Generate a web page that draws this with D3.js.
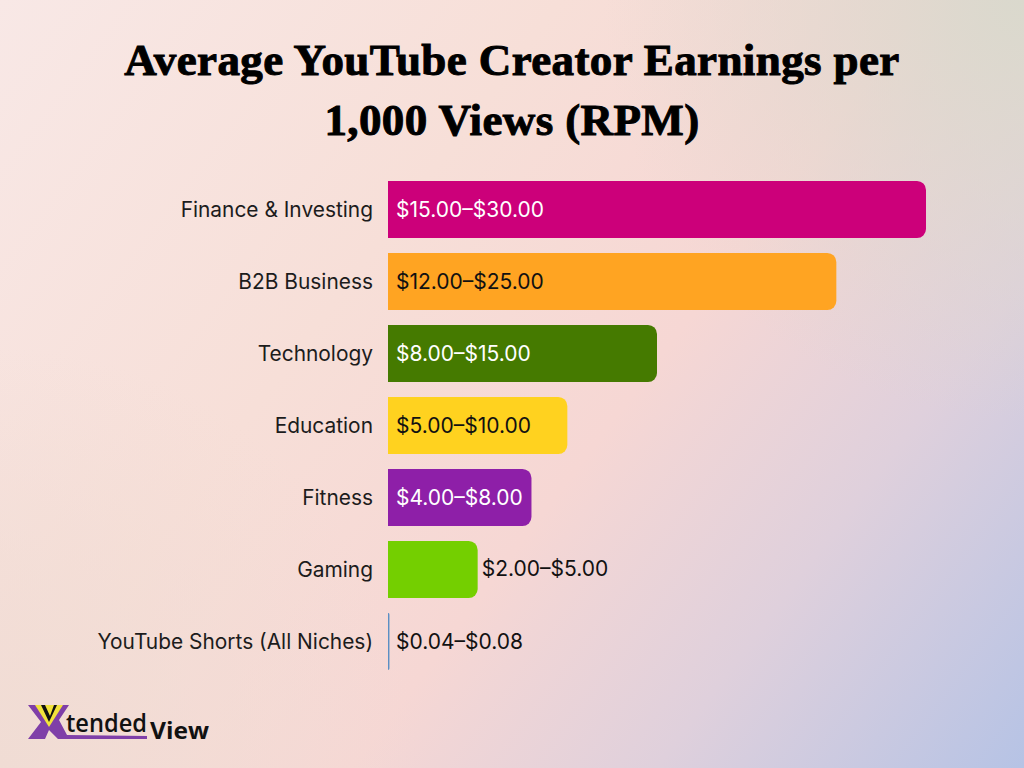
<!DOCTYPE html>
<html>
<head>
<meta charset="utf-8">
<script src="https://cdn.jsdelivr.net/npm/d3@7"></script>
<style>
html, body { margin: 0; padding: 0; background: #f6d9d4; }
svg { display: block; }
</style>
</head>
<body>
<div id="chart"></div>
<script>
const categories = ["Finance & Investing", "B2B Business", "Technology", "Education", "Fitness", "Gaming", "YouTube Shorts (All Niches)"];
const maxValues = [30, 25, 15, 10, 8, 5, 0.08];
const rangeLabels = ["$15.00–$30.00", "$12.00–$25.00", "$8.00–$15.00", "$5.00–$10.00", "$4.00–$8.00", "$2.00–$5.00", "$0.04–$0.08"];
const barColors = ["#cc007a", "#ffa422", "#457a00", "#ffd21f", "#8e1fa8", "#74cf00", "#5b8fc4"];
const labelColors = ["#ffffff", "#111111", "#ffffff", "#111111", "#ffffff", "#111111", "#111111"];
const titleLines = ["Average YouTube Creator Earnings per", "1,000 Views (RPM)"];

const width = 1024, height = 768;

const svg = d3.select("#chart").append("svg")
    .attr("width", width)
    .attr("height", height)
    .attr("viewBox", "0 0 " + width + " " + height);

/* background is a diagonal gradient with a grey glow in the top right */
const defs = svg.append("defs");
const bg = defs.append("linearGradient").attr("id", "bg")
    .attr("gradientUnits", "userSpaceOnUse")
    .attr("x1", 0).attr("y1", 0).attr("x2", 1024).attr("y2", 768);
bg.selectAll("stop")
    .data([[0, "#f8e8e6"], [0.35, "#f7dfd8"], [0.58, "#f6d7d4"], [0.77, "#dfd0dc"], [1, "#b6c3e5"]])
    .enter().append("stop")
    .attr("offset", d => d[0])
    .attr("stop-color", d => d[1]);
const glow = defs.append("radialGradient").attr("id", "glow")
    .attr("gradientUnits", "userSpaceOnUse")
    .attr("cx", 1024).attr("cy", 0).attr("r", 420);
glow.append("stop").attr("offset", 0).attr("stop-color", "#dad9cd").attr("stop-opacity", 1);
glow.append("stop").attr("offset", 1).attr("stop-color", "#dad9cd").attr("stop-opacity", 0);
const glow2 = defs.append("radialGradient").attr("id", "glow2")
    .attr("gradientUnits", "userSpaceOnUse")
    .attr("cx", 0).attr("cy", 768).attr("r", 420);
glow2.append("stop").attr("offset", 0).attr("stop-color", "#f0dcd4").attr("stop-opacity", 1);
glow2.append("stop").attr("offset", 1).attr("stop-color", "#f0dcd4").attr("stop-opacity", 0);

svg.append("rect").attr("width", width).attr("height", height).attr("fill", "url(#bg)");
svg.append("rect").attr("width", width).attr("height", height).attr("fill", "url(#glow)");
svg.append("rect").attr("width", width).attr("height", height).attr("fill", "url(#glow2)");

/* title */
svg.append("g").selectAll("text")
    .data(titleLines)
    .enter().append("text")
    .attr("x", 512)
    .attr("y", (d, i) => 75 + i * 60)
    .attr("text-anchor", "middle")
    .attr("font-family", "'Liberation Serif', serif")
    .attr("font-weight", "bold")
    .attr("font-size", 45)
    .attr("letter-spacing", 0.38)
    .attr("fill", "#000")
    .attr("stroke", "#000")
    .attr("stroke-width", 1)
    .text(d => d);

/* scales */
const xScale = d3.scaleLinear().domain([0, 30]).range([388, 926]);
const yScale = d3.scaleBand()
    .domain(categories)
    .range([173.5, 677.5])
    .paddingInner(0.208)
    .paddingOuter(0.104);

/* only the right hand corners are rounded */
function barPath(v, cat) {
    const x0 = xScale(0), x1 = xScale(v);
    const y0 = yScale(cat), y1 = y0 + yScale.bandwidth();
    const r = Math.min(9, x1 - x0);
    const p = d3.path();
    p.moveTo(x0, y0);
    p.lineTo(x1 - r, y0);
    p.arcTo(x1, y0, x1, y0 + r, r);
    p.lineTo(x1, y1 - r);
    p.arcTo(x1, y1, x1 - r, y1, r);
    p.lineTo(x0, y1);
    p.closePath();
    return p.toString();
}

svg.append("g").selectAll("path")
    .data(categories)
    .enter().append("path")
    .attr("d", (d, i) => barPath(maxValues[i], d))
    .attr("fill", (d, i) => barColors[i]);

/* category labels */
const yAxis = d3.axisLeft(yScale).tickSize(0).tickPadding(15);
const yG = svg.append("g")
    .attr("transform", "translate(" + xScale(0) + ",0)")
    .call(yAxis);
yG.select(".domain").remove();
yG.selectAll("text")
    .attr("dy", "0.36em")
    .attr("font-family", "Inter, sans-serif")
    .attr("font-size", 20.9)
    .attr("fill", "#1c1c1c");

/* value labels, gaming sits outside its bar */
svg.append("g").selectAll("text")
    .data(categories)
    .enter().append("text")
    .attr("x", (d, i) => d === "Gaming" ? xScale(maxValues[i]) + 4 : xScale(0) + 8)
    .attr("y", d => yScale(d) + yScale.bandwidth() / 2 - (d === "Gaming" ? 1 : 0))
    .attr("dy", "0.36em")
    .attr("font-family", "Inter, sans-serif")
    .attr("font-size", 21)
    .attr("fill", (d, i) => labelColors[i])
    .text((d, i) => rangeLabels[i]);

/* logo */
const logo = svg.append("g");
logo.append("path")
    .attr("d", "M28 705H69L59 720L67 735L147 736V739H58L49 730L45 739H28L41 722Z")
    .attr("fill", "#7f3fa8");
logo.append("path")
    .attr("d", "M35 705H63L49 727Z")
    .attr("fill", "#f2e33c");
logo.append("path")
    .attr("d", "M41 705H45L50 716L54 705H57L49 722Z")
    .attr("fill", "#111");
logo.append("text")
    .attr("x", 66).attr("y", 732)
    .attr("font-family", "'Open Sans', sans-serif")
    .attr("font-weight", 600)
    .attr("font-size", 26)
    .attr("textLength", 81)
    .attr("lengthAdjust", "spacingAndGlyphs")
    .attr("fill", "#111")
    .text("tended");
logo.append("text")
    .attr("x", 150).attr("y", 739)
    .attr("font-family", "'Open Sans', sans-serif")
    .attr("font-weight", 700)
    .attr("font-size", 23)
    .attr("textLength", 59)
    .attr("lengthAdjust", "spacingAndGlyphs")
    .attr("fill", "#111")
    .text("View");
</script>
</body>
</html>
